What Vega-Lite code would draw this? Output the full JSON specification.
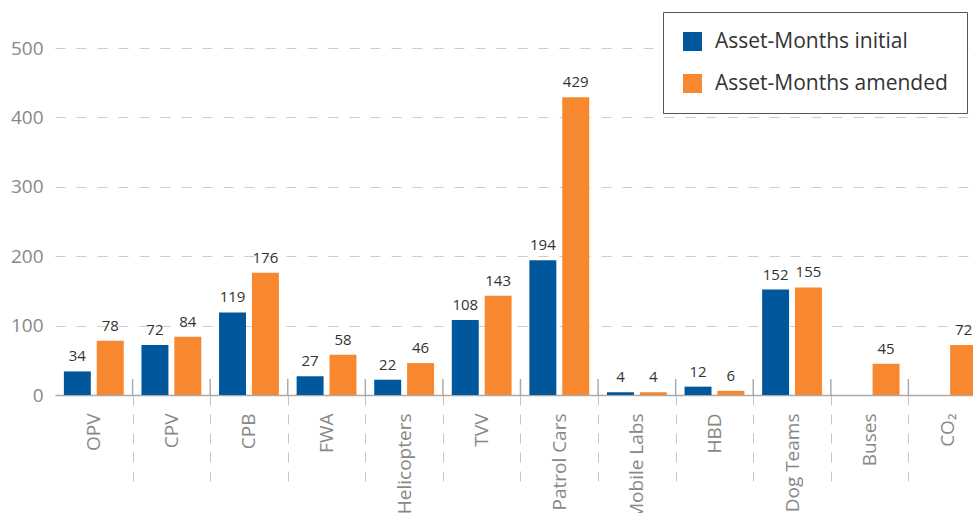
{
  "$schema": "https://vega.github.io/schema/vega-lite/v6.json",
  "width": 931,
  "height": 347,
  "autosize": {"type": "none"},
  "padding": {"left": 55, "top": 48, "right": 0, "bottom": 118},
  "background": "white",
  "config": {"view": {"stroke": null}, "font": "Open Sans"},
  "data": {
    "values": [
      {"asset": "OPV", "series": "Asset-Months initial", "value": 34},
      {"asset": "OPV", "series": "Asset-Months amended", "value": 78},
      {"asset": "CPV", "series": "Asset-Months initial", "value": 72},
      {"asset": "CPV", "series": "Asset-Months amended", "value": 84},
      {"asset": "CPB", "series": "Asset-Months initial", "value": 119},
      {"asset": "CPB", "series": "Asset-Months amended", "value": 176},
      {"asset": "FWA", "series": "Asset-Months initial", "value": 27},
      {"asset": "FWA", "series": "Asset-Months amended", "value": 58},
      {"asset": "Helicopters", "series": "Asset-Months initial", "value": 22},
      {"asset": "Helicopters", "series": "Asset-Months amended", "value": 46},
      {"asset": "TVV", "series": "Asset-Months initial", "value": 108},
      {"asset": "TVV", "series": "Asset-Months amended", "value": 143},
      {"asset": "Patrol Cars", "series": "Asset-Months initial", "value": 194},
      {"asset": "Patrol Cars", "series": "Asset-Months amended", "value": 429},
      {"asset": "Mobile Labs", "series": "Asset-Months initial", "value": 4},
      {"asset": "Mobile Labs", "series": "Asset-Months amended", "value": 4},
      {"asset": "HBD", "series": "Asset-Months initial", "value": 12},
      {"asset": "HBD", "series": "Asset-Months amended", "value": 6},
      {"asset": "Dog Teams", "series": "Asset-Months initial", "value": 152},
      {"asset": "Dog Teams", "series": "Asset-Months amended", "value": 155},
      {"asset": "Buses", "series": "Asset-Months initial", "value": null},
      {"asset": "Buses", "series": "Asset-Months amended", "value": 45},
      {"asset": "CO₂", "series": "Asset-Months initial", "value": null},
      {"asset": "CO₂", "series": "Asset-Months amended", "value": 72}
    ]
  },
  "encoding": {
    "x": {
      "field": "asset",
      "type": "nominal",
      "sort": ["OPV", "CPV", "CPB", "FWA", "Helicopters", "TVV", "Patrol Cars", "Mobile Labs", "HBD", "Dog Teams", "Buses", "CO₂"],
      "scale": {"paddingInner": 0, "paddingOuter": 0},
      "axis": {
        "title": null,
        "domain": true,
        "domainColor": "#aaaaaa",
        "domainWidth": 1.5,
        "ticks": true,
        "tickBand": "extent",
        "tickSize": 94,
        "tickDash": [10, 9],
        "tickWidth": 1,
        "tickColor": {"condition": {"test": "datum.extra", "value": "transparent"}, "value": "#c4c4c4"},
        "labelAngle": -90,
        "labelAlign": "right",
        "labelBaseline": "middle",
        "labelColor": "#888888",
        "labelFontSize": 19,
        "labelPadding": -76,
        "labelLimit": 300
      }
    }
  },
  "layer": [
    {
      "mark": {"type": "bar"},
      "encoding": {
        "xOffset": {
          "field": "series",
          "sort": ["Asset-Months initial", "Asset-Months amended"],
          "scale": {"paddingInner": 0.18, "paddingOuter": 0.27}
        },
        "y": {
          "field": "value",
          "type": "quantitative",
          "scale": {"domain": [0, 500], "nice": false},
          "axis": {
            "title": null,
            "domain": false,
            "ticks": false,
            "values": [0, 100, 200, 300, 400, 500],
            "grid": true,
            "gridDash": [10, 11],
            "gridColor": "#cccccc",
            "labelColor": "#888888",
            "labelFontSize": 19,
            "labelPadding": 12
          }
        },
        "color": {
          "field": "series",
          "type": "nominal",
          "sort": ["Asset-Months initial", "Asset-Months amended"],
          "scale": {"range": ["#01579b", "#f7882f"]},
          "legend": {
            "title": null,
            "orient": "none",
            "legendX": 608,
            "legendY": -36,
            "strokeColor": "#555555",
            "fillColor": "white",
            "padding": 19,
            "symbolType": "square",
            "symbolSize": 360,
            "symbolStrokeWidth": 0,
            "symbolOpacity": 1,
            "labelFontSize": 21,
            "labelColor": "#333333",
            "labelOffset": 12,
            "rowPadding": 20,
            "labelLimit": 400
          }
        }
      }
    },
    {
      "transform": [{"filter": "isValid(datum.value)"}],
      "mark": {"type": "text", "baseline": "bottom", "dy": -7, "fontSize": 15, "color": "#333333"},
      "encoding": {
        "xOffset": {
          "field": "series",
          "sort": ["Asset-Months initial", "Asset-Months amended"],
          "scale": {"paddingInner": 0.18, "paddingOuter": 0.27}
        },
        "y": {"field": "value", "type": "quantitative"},
        "text": {"field": "value", "type": "quantitative"}
      }
    },
    {
      "transform": [{"filter": "datum.series === 'Asset-Months initial' && datum.asset !== 'OPV'"}],
      "mark": {"type": "rule", "color": "#aaaaaa", "strokeWidth": 1.5},
      "encoding": {
        "x": {"field": "asset", "type": "nominal", "bandPosition": 0},
        "y": {"datum": 0},
        "y2": {"datum": 23}
      }
    }
  ]
}
